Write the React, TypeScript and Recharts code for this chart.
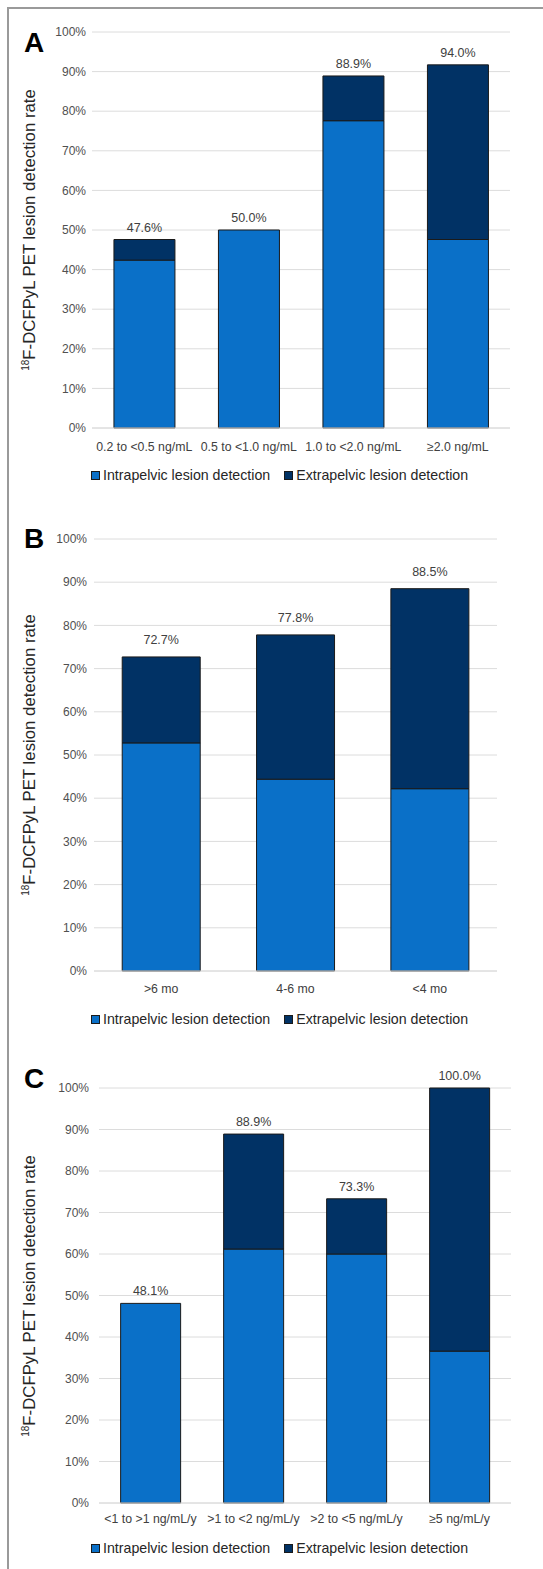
import React from "react";
import {
  BarChart,
  Bar,
  XAxis,
  YAxis,
  CartesianGrid,
  LabelList,
} from "recharts";

const yTicks = [0, 10, 20, 30, 40, 50, 60, 70, 80, 90, 100];
const seriesNames = ["Intrapelvic lesion detection", "Extrapelvic lesion detection"];

// panel A - PSA level
const psaCategories = ["0.2 to <0.5 ng/mL", "0.5 to <1.0 ng/mL", "1.0 to <2.0 ng/mL", "≥2.0 ng/mL"];
const psaIntra = [42.4, 50.0, 77.6, 47.6];
const psaExtra = [5.2, 0, 11.3, 44.1];
const psaTotals = ["47.6%", "50.0%", "88.9%", "94.0%"];

// panel B - PSA doubling time
const psadtCategories = [">6 mo", "4-6 mo", "<4 mo"];
const psadtIntra = [52.8, 44.4, 42.2];
const psadtExtra = [19.9, 33.4, 46.3];
const psadtTotals = ["72.7%", "77.8%", "88.5%"];

// panel C - PSA velocity
const psavCategories = ["<1 to >1 ng/mL/y", ">1 to <2 ng/mL/y", ">2 to <5 ng/mL/y", "≥5 ng/mL/y"];
const psavIntra = [48.1, 61.2, 60.0, 36.6];
const psavExtra = [0, 27.7, 13.3, 63.4];
const psavTotals = ["48.1%", "88.9%", "73.3%", "100.0%"];

const INTRA = "#0a70c8";
const EXTRA = "#013265";
const FONT = "'Liberation Sans', Arial, sans-serif";

type PanelProps = {
  letter: string;
  top: number;
  height: number;
  plotTop: number;
  plotLeft: number;
  plotRight: number;
  categories: string[];
  intra: number[];
  extra: number[];
  totals: string[];
  labelGap: number;
  xTickMargin: number;
  yTickMargin: number;
  letterTop: number;
  legendTop: number;
};

function Panel(p: PanelProps) {
  // total label sits on the top segment; if extrapelvic is 0 it goes on the intrapelvic bar
  const data = p.categories.map((name, i) => ({
    name,
    intra: p.intra[i],
    extra: p.extra[i],
    labelIntra: p.extra[i] > 0 ? null : p.totals[i],
    labelExtra: p.extra[i] > 0 ? p.totals[i] : null,
  }));
  const plotBottom = p.height - 30;
  const midY = p.top + (p.plotTop + plotBottom) / 2;

  const renderTotal = (props: any) => {
    const { x, y, width, value } = props;
    if (value == null || value === "") return null;
    return (
      <text
        x={Number(x) + Number(width) / 2}
        y={Number(y) - p.labelGap}
        textAnchor="middle"
        dominantBaseline="central"
        fill="#404040"
        fontSize={12.5}
        fontFamily={FONT}
      >
        {value}
      </text>
    );
  };

  return (
    <>
      <div style={{ position: "absolute", left: 0, top: p.top }}>
        <BarChart
          width={543}
          height={p.height}
          data={data}
          margin={{ top: p.plotTop, right: 543 - p.plotRight, left: 0, bottom: 0 }}
          barCategoryGap="21%"
        >
          <CartesianGrid vertical={false} stroke="#dcdcdc" />
          <XAxis
            dataKey="name"
            height={30}
            tickLine={false}
            tickSize={0}
            tickMargin={p.xTickMargin}
            axisLine={{ stroke: "#dcdcdc" }}
            tick={{ fill: "#404040", fontSize: 12.3, fontFamily: FONT }}
            interval={0}
          />
          <YAxis
            width={p.plotLeft}
            domain={[0, 100]}
            ticks={yTicks}
            tickFormatter={(v) => `${v}%`}
            axisLine={false}
            tickLine={false}
            tickSize={0}
            tickMargin={p.yTickMargin}
            tick={{ fill: "#505050", fontSize: 12, fontFamily: FONT }}
          />
          <Bar
            dataKey="intra"
            stackId="a"
            fill={INTRA}
            stroke="#1a1a1a"
            strokeWidth={1}
            isAnimationActive={false}
          >
            <LabelList dataKey="labelIntra" content={renderTotal} />
          </Bar>
          <Bar
            dataKey="extra"
            stackId="a"
            fill={EXTRA}
            stroke="#1a1a1a"
            strokeWidth={1}
            isAnimationActive={false}
          >
            <LabelList dataKey="labelExtra" content={renderTotal} />
          </Bar>
        </BarChart>
      </div>

      {/* panel letter */}
      <div
        style={{
          position: "absolute",
          left: 24,
          top: p.letterTop,
          fontFamily: FONT,
          fontWeight: "bold",
          fontSize: 28,
          lineHeight: "28px",
          color: "#000",
        }}
      >
        {p.letter}
      </div>

      {/* y axis title */}
      <div
        style={{
          position: "absolute",
          left: 30,
          top: midY,
          transform: "translate(-50%, -50%) rotate(-90deg)",
          whiteSpace: "nowrap",
          fontFamily: FONT,
          fontSize: 16.8,
          color: "#262626",
        }}
      >
        <sup style={{ fontSize: 10 }}>18</sup>F-DCFPyL PET lesion detection rate
      </div>

      {/* legend */}
      <div
        style={{
          position: "absolute",
          left: 91,
          top: p.legendTop - 9,
          display: "flex",
          alignItems: "center",
          fontFamily: FONT,
          fontSize: 14.2,
          lineHeight: "18px",
          color: "#262626",
        }}
      >
        {seriesNames.map((s, i) => (
          <div key={s} style={{ display: "flex", alignItems: "center", marginRight: 14 }}>
            <span
              style={{
                width: 9,
                height: 9,
                background: i === 0 ? INTRA : EXTRA,
                border: "1px solid #1a1a1a",
                marginRight: 3,
                boxSizing: "border-box",
              }}
            />
            {s}
          </div>
        ))}
      </div>
    </>
  );
}

export default function App() {
  return (
    <div
      style={{
        position: "absolute",
        left: 0,
        top: 0,
        width: 543,
        height: 1569,
        background: "#fff",
        overflow: "hidden",
      }}
    >
      {/* figure frame */}
      <div
        style={{
          position: "absolute",
          left: 7,
          top: 7,
          width: 540,
          height: 1570,
          borderTop: "2px solid #9a9a9a",
          borderLeft: "2px solid #9a9a9a",
        }}
      />
      <Panel
        letter="A"
        top={0}
        height={458}
        plotTop={32}
        plotLeft={92}
        plotRight={510}
        categories={psaCategories}
        intra={psaIntra}
        extra={psaExtra}
        totals={psaTotals}
        labelGap={12}
        xTickMargin={14}
        yTickMargin={6}
        letterTop={29}
        legendTop={475}
      />
      <Panel
        letter="B"
        top={500}
        height={501}
        plotTop={39}
        plotLeft={94}
        plotRight={497}
        categories={psadtCategories}
        intra={psadtIntra}
        extra={psadtExtra}
        totals={psadtTotals}
        labelGap={17}
        xTickMargin={13}
        yTickMargin={7}
        letterTop={525}
        legendTop={1019}
      />
      <Panel
        letter="C"
        top={1040}
        height={493}
        plotTop={48}
        plotLeft={99}
        plotRight={511}
        categories={psavCategories}
        intra={psavIntra}
        extra={psavExtra}
        totals={psavTotals}
        labelGap={12}
        xTickMargin={11}
        yTickMargin={10}
        letterTop={1065}
        legendTop={1548}
      />
    </div>
  );
}
